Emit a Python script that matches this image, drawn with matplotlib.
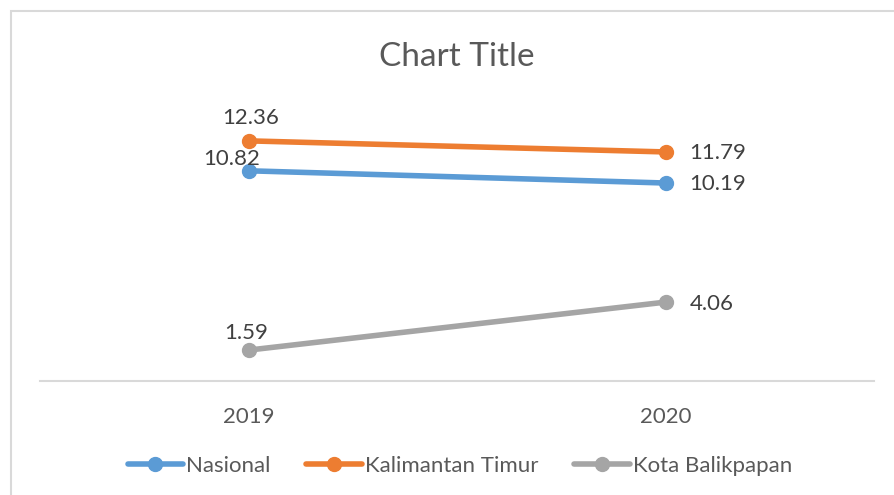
import numpy as np
import matplotlib.pyplot as plt
from matplotlib.patches import Rectangle

plt.rcParams['font.family'] = ['Lato', 'DejaVu Sans']

years = ["2019", "2020"]
series_names = ["Nasional", "Kalimantan Timur", "Kota Balikpapan"]
nasional = [10.82, 10.19]
kaltim = [12.36, 11.79]
balikpapan = [1.59, 4.06]

colors = ["#5B9BD5", "#ED7D31", "#A5A5A5"]
# label offsets in pixels (dx, dy) for each point
offsets = [
    [(-17, 12), (24, -1)],
    [(2, 23), (24, -1)],
    [(-2, 17), (24, -2)],
]

W, H = 894, 495
fig = plt.figure(figsize=(W / 100, H / 100), dpi=100)
ax = fig.add_axes([40 / W, (H - 381) / H, 834 / W, 272 / H])

x = np.arange(len(years))
for vals, name, col, offs in zip([nasional, kaltim, balikpapan], series_names, colors, offsets):
    ax.plot(x, vals, color=col, lw=4, marker='o', markersize=10,
            solid_capstyle='round', label=name)
    for i, v in enumerate(vals):
        dx, dy = offs[i]
        ha = 'left' if dx > 10 else 'center'
        ax.annotate(f"{v:.2f}", (x[i], v), xytext=(dx, dy),
                    textcoords='offset pixels', ha=ha, va='center',
                    fontsize=16, color="#404040")

ax.set_xlim(-0.5, 1.5)
ax.set_ylim(0, 14)
ax.set_xticks(x)
ax.set_xticklabels(years, fontsize=16, color="#595959")
ax.tick_params(axis='x', length=0, pad=19)
ax.set_yticks([])
for s in ['top', 'left', 'right']:
    ax.spines[s].set_visible(False)
ax.spines['bottom'].set_color("#D9D9D9")
ax.spines['bottom'].set_linewidth(1.5)

fig.text(457 / W, 1 - 57 / H, "Chart Title", ha='center', va='center',
         fontsize=24, color="#595959")

leg = fig.legend(loc='center', bbox_to_anchor=(460 / W, 1 - 466 / H), ncol=3,
                 frameon=False, fontsize=16, handlelength=2.5,
                 handletextpad=0.15, columnspacing=1.6)
for t in leg.get_texts():
    t.set_color("#595959")

fig.patches.append(Rectangle((11 / W, -0.1), 1.2, 1 - 11 / H + 0.1,
                             transform=fig.transFigure, fill=False,
                             edgecolor="#D9D9D9", lw=1.5))

fig.savefig("out.png", dpi=100)
